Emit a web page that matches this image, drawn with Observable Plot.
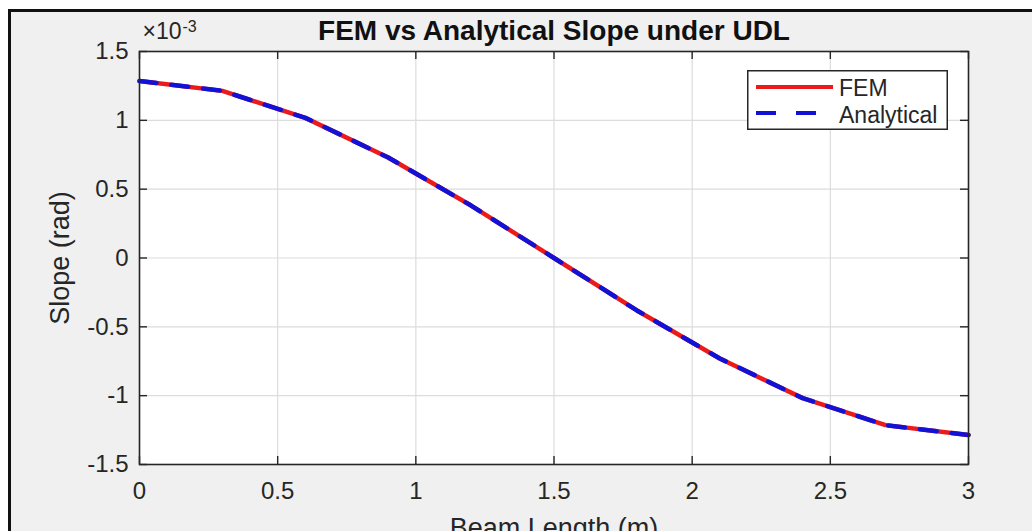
<!DOCTYPE html>
<html><head><meta charset="utf-8">
<script src="https://cdn.jsdelivr.net/npm/d3@7"></script>
<script src="https://cdn.jsdelivr.net/npm/@observablehq/plot@0.6"></script>
<style>
html,body{margin:0;padding:0;background:#fff;width:1032px;height:531px;overflow:hidden;}
#bg{position:absolute;left:8px;top:9px;width:1100px;height:600px;border:3px solid #111;background:#f0f0f0;}
#chart{position:absolute;left:0;top:0;}
#legend{position:absolute;left:747px;top:70px;}
</style></head>
<body>
<div id="bg"></div>
<div id="chart"></div>
<div id="legend"></div>
<script>
// ---- data ----
const beamX = [0, 0.3, 0.6, 0.9, 1.2, 1.5, 1.8, 2.1, 2.4, 2.7, 3.0];
const femSlope = [1.286e-3, 1.214e-3, 1.018e-3, 0.730e-3, 0.381e-3, 0, -0.381e-3, -0.730e-3, -1.018e-3, -1.214e-3, -1.286e-3];
const analyticalSlope = [1.286e-3, 1.214e-3, 1.018e-3, 0.730e-3, 0.381e-3, 0, -0.381e-3, -0.730e-3, -1.018e-3, -1.214e-3, -1.286e-3];
const xTicks = [0, 0.5, 1, 1.5, 2, 2.5, 3];
const xTickLabels = ["0", "0.5", "1", "1.5", "2", "2.5", "3"];
const yTicks = [-1.5e-3, -1e-3, -0.5e-3, 0, 0.5e-3, 1e-3, 1.5e-3];
const yTickLabels = ["-1.5", "-1", "-0.5", "0", "0.5", "1", "1.5"];
const seriesNames = ["FEM", "Analytical"];
const seriesColors = ["#ec1b1b", "#1212d6"];
const titleText = "FEM vs Analytical Slope under UDL";
const xLabelText = "Beam Length (m)";
const yLabelText = "Slope (rad)";
const expBase = "×10";
const expPower = "-3";

// ---- chart ----
const W = 1032, H = 531;
const mL = 139, mR = 64, mT = 51, mB = 67;
const plotW = W - mL - mR, plotH = H - mT - mB;
const font = '"Liberation Sans", Arial, sans-serif';
const ink = "#262626";
const tickLen = 8;

const fem = beamX.map((x, i) => ({x, y: femSlope[i]}));
const ana = beamX.map((x, i) => ({x, y: analyticalSlope[i]}));

const chart = Plot.plot({
  width: W, height: H,
  marginLeft: mL, marginRight: mR, marginTop: mT, marginBottom: mB,
  style: {background: "transparent", fontFamily: font, color: ink, overflow: "visible"},
  x: {domain: [0, 3]},
  y: {domain: [-1.5e-3, 1.5e-3]},
  marks: [
    Plot.frame({fill: "white", stroke: null}),
    Plot.gridX(xTicks, {stroke: "#dcdcdc", strokeOpacity: 1, strokeWidth: 1.2}),
    Plot.gridY(yTicks, {stroke: "#dcdcdc", strokeOpacity: 1, strokeWidth: 1.2}),
    Plot.line(fem, {x: "x", y: "y", stroke: seriesColors[0], strokeWidth: 4.5}),
    Plot.line(ana, {x: "x", y: "y", stroke: seriesColors[1], strokeWidth: 4.5, strokeDasharray: "17,15"}),
    Plot.frame({stroke: ink, strokeWidth: 1.6}),
    // inward ticks on all four sides
    Plot.tickX(xTicks, {x: d => d, insetTop: plotH - tickLen, stroke: ink, strokeWidth: 1.4}),
    Plot.tickX(xTicks, {x: d => d, insetBottom: plotH - tickLen, stroke: ink, strokeWidth: 1.4}),
    Plot.tickY(yTicks, {y: d => d, insetRight: plotW - tickLen, stroke: ink, strokeWidth: 1.4}),
    Plot.tickY(yTicks, {y: d => d, insetLeft: plotW - tickLen, stroke: ink, strokeWidth: 1.4}),
    Plot.axisX(xTicks, {tickSize: 0, tickPadding: 17, fontSize: 24, label: null,
      tickFormat: d => xTickLabels[xTicks.indexOf(d)], fill: ink}),
    Plot.axisY(yTicks, {tickSize: 0, tickPadding: 11, fontSize: 24, label: null,
      tickFormat: d => yTickLabels[yTicks.indexOf(d)], fill: ink}),
    Plot.text([titleText], {text: d => d, frameAnchor: "top", dy: -12, lineAnchor: "bottom",
      fontSize: 28, fontWeight: "bold", fill: "#111"}),
    Plot.text([expBase], {text: d => d, frameAnchor: "top-left", dx: 3, dy: -13, lineAnchor: "bottom",
      textAnchor: "start", fontSize: 23, fill: ink}),
    Plot.text([expPower], {text: d => d, frameAnchor: "top-left", dx: 43, dy: -20, lineAnchor: "bottom",
      textAnchor: "start", fontSize: 16, fill: ink}),
    Plot.text([xLabelText], {text: d => d, frameAnchor: "bottom", dy: 72, lineAnchor: "bottom",
      fontSize: 27, fill: ink}),
    Plot.text([yLabelText], {text: d => d, frameAnchor: "left", dx: -79, rotate: -90,
      lineAnchor: "middle", textAnchor: "middle", fontSize: 27, fill: ink})
  ]
});
document.getElementById("chart").appendChild(chart);

// ---- legend ----
const lw = 201, lh = 60;
const lg = d3.select("#legend").append("svg").attr("width", lw).attr("height", lh)
  .style("font-family", font);
lg.append("rect").attr("x", 0.75).attr("y", 0.75).attr("width", lw - 1.5).attr("height", lh - 1.5)
  .attr("fill", "white").attr("stroke", ink).attr("stroke-width", 1.5);
const rows = [{y: 17, base: 26}, {y: 43, base: 53}];
seriesNames.forEach((name, i) => {
  lg.append("line").attr("x1", 9).attr("x2", 86).attr("y1", rows[i].y).attr("y2", rows[i].y)
    .attr("stroke", seriesColors[i]).attr("stroke-width", 4)
    .attr("stroke-dasharray", i === 1 ? "20,20" : null);
  lg.append("text").attr("x", 92).attr("y", rows[i].base).attr("font-size", 23)
    .attr("fill", ink).text(name);
});
</script>
</body></html>
